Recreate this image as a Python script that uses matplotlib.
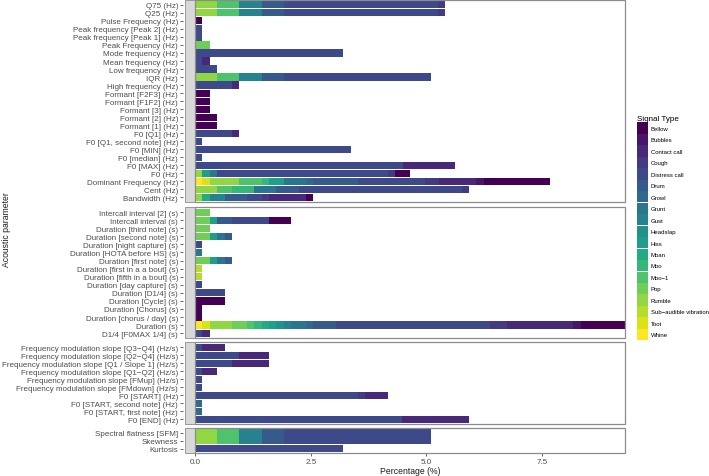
import numpy as np
import matplotlib
matplotlib.use("Agg")
import matplotlib.pyplot as plt
from matplotlib.patches import Patch, Rectangle

plt.rcParams['font.family'] = ['Liberation Sans', 'DejaVu Sans']

signal_types = ["Bellow", "Bubbles", "Contact call", "Cough", "Distress call", "Drum",
                "Growl", "Grunt", "Gust", "Headslap", "Hiss", "Moan", "Moo", "Moo\u22121",
                "Pop", "Rumble", "Sub\u2212audible vibration", "Toot", "Whine"]

# FED facet (top to bottom)
fed_params = ["Q75 (Hz)", "Q25 (Hz)", "Pulse Frequency (Hz)", "Peak frequency [Peak 2] (Hz)",
              "Peak frequency [Peak 1] (Hz)", "Peak Frequency (Hz)", "Mode frequency (Hz)",
              "Mean frequency (Hz)", "Low frequency (Hz)", "IQR (Hz)", "High frequency (Hz)",
              "Formant [F2F3] (Hz)", "Formant [F1F2] (Hz)", "Formant [3] (Hz)", "Formant [2] (Hz)",
              "Formant [1] (Hz)", "F0 [Q1] (Hz)", "F0 [Q1, second note] (Hz)", "F0 [MIN] (Hz)",
              "F0 [median] (Hz)", "F0 [MAX] (Hz)", "F0 (Hz)", "Dominant Frequency (Hz)",
              "Cent (Hz)", "Bandwidth (Hz)"]
fed_values = [
    {"Rumble": 0.48, "Moo\u22121": 0.48, "Gust": 0.48, "Drum": 0.48, "Distress call": 3.33, "Cough": 0.16},
    {"Rumble": 0.48, "Moo\u22121": 0.48, "Gust": 0.48, "Drum": 0.48, "Distress call": 3.33, "Cough": 0.16},
    {"Bellow": 0.16},
    {"Distress call": 0.16},
    {"Distress call": 0.16},
    {"Pop": 0.32},
    {"Distress call": 3.2},
    {"Distress call": 0.16, "Contact call": 0.16},
    {"Distress call": 0.48},
    {"Rumble": 0.48, "Moo\u22121": 0.48, "Gust": 0.48, "Drum": 0.48, "Distress call": 3.18},
    {"Distress call": 0.8, "Contact call": 0.16},
    {"Bellow": 0.32},
    {"Bellow": 0.32},
    {"Bellow": 0.32},
    {"Bellow": 0.48},
    {"Bellow": 0.48},
    {"Distress call": 0.8, "Contact call": 0.16},
    {"Distress call": 0.16},
    {"Distress call": 3.36},
    {"Distress call": 0.16},
    {"Distress call": 4.49, "Contact call": 1.12},
    {"Rumble": 0.16, "Hiss": 0.16, "Grunt": 0.16, "Distress call": 3.68, "Cough": 0.16, "Bellow": 0.32},
    {"Whine": 0.16, "Toot": 0.16, "Rumble": 0.64, "Moo\u22121": 0.48, "Moo": 0.16, "Hiss": 0.32,
     "Grunt": 0.48, "Growl": 0.16, "Drum": 0.96, "Distress call": 1.44, "Cough": 0.32,
     "Contact call": 0.8, "Bubbles": 0.16, "Bellow": 1.44},
    {"Rumble": 0.48, "Moo\u22121": 0.32, "Moo": 0.48, "Grunt": 0.48, "Drum": 0.48,
     "Distress call": 3.52, "Cough": 0.16},
    {"Rumble": 0.16, "Moan": 0.16, "Gust": 0.32, "Drum": 0.48, "Distress call": 0.32,
     "Cough": 0.16, "Contact call": 0.8, "Bellow": 0.16},
]

# TW facet
tw_params = ["Intercall interval [2] (s)", "Intercall interval (s)", "Duration [third note] (s)",
             "Duration [second note] (s)", "Duration [night capture] (s)",
             "Duration [HOTA before HS] (s)", "Duration [first note] (s)",
             "Duration [first in a a bout] (s)", "Duration [fifth in a bout] (s)",
             "Duration [day capture] (s)", "Duration [D1/4] (s)", "Duration [Cycle] (s)",
             "Duration [Chorus] (s)", "Duration [chorus / day] (s)", "Duration (s)",
             "D1/4 [F0MAX 1/4] (s)"]
tw_values = [
    {"Pop": 0.32},
    {"Pop": 0.32, "Hiss": 0.16, "Drum": 0.32, "Distress call": 0.8, "Bellow": 0.48},
    {"Pop": 0.32},
    {"Pop": 0.32, "Hiss": 0.16, "Grunt": 0.16, "Drum": 0.16},
    {"Distress call": 0.16},
    {"Grunt": 0.16},
    {"Pop": 0.32, "Hiss": 0.16, "Grunt": 0.16, "Drum": 0.16},
    {"Sub\u2212audible vibration": 0.16},
    {"Sub\u2212audible vibration": 0.16},
    {"Distress call": 0.16},
    {"Distress call": 0.64},
    {"Bellow": 0.64},
    {"Bellow": 0.16},
    {"Bellow": 0.16},
    {"Whine": 0.16, "Toot": 0.16, "Rumble": 0.48, "Pop": 0.32, "Moo\u22121": 0.16, "Moo": 0.16,
     "Moan": 0.16, "Hiss": 0.16, "Headslap": 0.16, "Gust": 0.16, "Grunt": 0.32, "Growl": 0.16,
     "Drum": 0.48, "Distress call": 3.33, "Cough": 0.36, "Contact call": 1.44,
     "Bubbles": 0.16, "Bellow": 0.96},
    {"Distress call": 0.16, "Contact call": 0.16},
]

# TED facet
ted_params = ["Frequency modulation slope [Q3\u2212Q4] (Hz/s)",
              "Frequency modulation slope [Q2\u2212Q4] (Hz/s)",
              "Frequency modulation slope [Q1 / Slope 1] (Hz/s)",
              "Frequency modulation slope [Q1\u2212Q2] (Hz/s)",
              "Frequency modulation slope [FMup] (Hz/s)",
              "Frequency modulation slope [FMdown] (Hz/s)",
              "F0 [START] (Hz)", "F0 [START, second note] (Hz)",
              "F0 [START, first note] (Hz)", "F0 [END] (Hz)"]
ted_values = [
    {"Distress call": 0.16, "Contact call": 0.48},
    {"Distress call": 0.96, "Contact call": 0.64},
    {"Distress call": 0.8, "Contact call": 0.8},
    {"Distress call": 0.16, "Contact call": 0.32},
    {"Distress call": 0.16},
    {"Distress call": 0.16},
    {"Distress call": 3.52, "Cough": 0.16, "Contact call": 0.48},
    {"Growl": 0.16},
    {"Growl": 0.16},
    {"Distress call": 4.48, "Contact call": 1.44},
]

# OT facet
ot_params = ["Spectral flatness [SFM]", "Skewness", "Kurtosis"]
ot_values = [
    {"Rumble": 0.48, "Moo\u22121": 0.48, "Gust": 0.48, "Drum": 0.48, "Distress call": 3.18},
    {"Rumble": 0.48, "Moo\u22121": 0.48, "Gust": 0.48, "Drum": 0.48, "Distress call": 3.18},
    {"Distress call": 3.2},
]

x_ticks = [0.0, 2.5, 5.0, 7.5]

palette = plt.cm.viridis(np.linspace(0, 1, len(signal_types)))
colors = dict(zip(signal_types, palette))

W, H = 709, 477
fig = plt.figure(figsize=(W / 100, H / 100), dpi=100)

facets = [("FED", fed_params, fed_values, 1.0, 203.3),
          ("TW", tw_params, tw_values, 208.3, 339.0),
          ("TED", ted_params, ted_values, 343.3, 425.0),
          ("OT", ot_params, ot_values, 429.3, 454.3)]

xmax = max(sum(r.values()) for f in facets for r in f[2])
px_left, px_right = 195, 625
strip_w = 10.0 / (px_right - px_left)
grey = "#4D4D4D"
border = "#8C8C8C"

for k, (name, params, values, top, bottom) in enumerate(facets):
    ax = fig.add_axes([px_left / W, 1 - bottom / H, (px_right - px_left) / W, (bottom - top) / H])
    for s in ax.spines.values():
        s.set_visible(False)
    ax.spines['left'].set_position(('outward', 8.5))
    for i, row in enumerate(values):
        left = 0.0
        for st in reversed(signal_types):
            if st in row:
                ax.barh(i, row[st], left=left, height=0.9, color=colors[st], linewidth=0)
                left += row[st]
    n = len(params)
    ax.set_ylim(n - 0.4, -0.6)
    ax.set_xlim(0, xmax)
    ax.set_yticks(range(n))
    ax.set_yticklabels(params)
    ax.tick_params(axis='y', length=2.2, width=0.6, color=grey, pad=1.4,
                   labelsize=5.75, labelcolor=grey)
    ax.add_patch(Rectangle((0, 0), 1, 1, transform=ax.transAxes, fill=False,
                           edgecolor=border, linewidth=0.9, clip_on=False, zorder=5))
    ax.add_patch(Rectangle((-strip_w, 0), strip_w, 1, transform=ax.transAxes,
                           facecolor="#D9D9D9", edgecolor=border, linewidth=0.6,
                           clip_on=False, zorder=4))
    ax.text(-strip_w / 2, 0.5, name, transform=ax.transAxes, rotation=90,
            ha='center', va='center', fontsize=5.3, color="#1A1A1A")
    if k == len(facets) - 1:
        ax.set_xticks(x_ticks)
        ax.set_xticklabels([f"{t:.1f}" for t in x_ticks])
        ax.tick_params(axis='x', length=2.2, width=0.6, color=grey, pad=1.0,
                       labelsize=5.75, labelcolor=grey)
    else:
        ax.set_xticks([])

fig.text(7 / W, 1 - 230 / H, "Acoustic parameter", rotation=90, ha='center', va='center',
         fontsize=6.2, color="#1A1A1A")
fig.text(410 / W, 1 - 472 / H, "Percentage (%)", ha='center', va='center',
         fontsize=6.2, color="#1A1A1A")

handles = [Patch(facecolor=colors[s], edgecolor='none', label=s) for s in signal_types]
fig.legend(handles=handles, loc='upper left', bbox_to_anchor=(633 / W, 1 - 112 / H),
           frameon=False, fontsize=4.3, title="Signal Type", title_fontsize=5.8,
           handlelength=1.76, handleheight=2.5, labelspacing=0.05, handletextpad=0.55,
           alignment='left', borderpad=0.2)

fig.savefig("out.png", dpi=100)
